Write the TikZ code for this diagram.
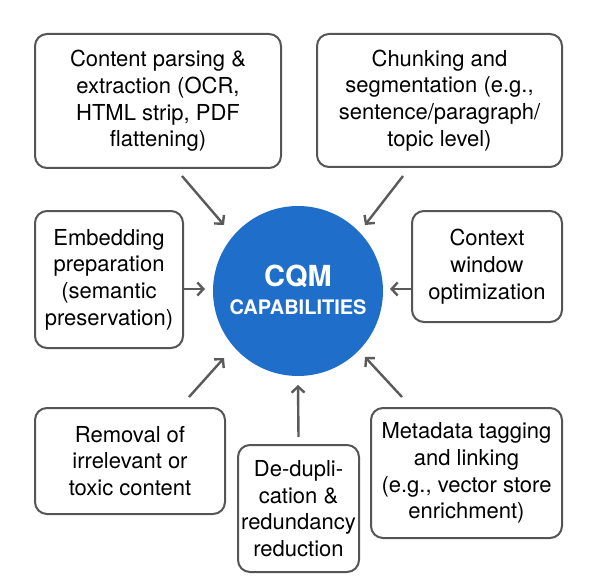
\documentclass[tikz,border=0pt]{standalone}
\usepackage{fontspec}
\setmainfont{TeX Gyre Heros}
\usetikzlibrary{arrows.meta,calc}
\definecolor{cqmblue}{RGB}{31,110,201}
\definecolor{edgegray}{RGB}{85,85,85}
\definecolor{arrgray}{RGB}{90,90,90}
\tikzset{
  box/.style={draw=edgegray, line width=2pt, rounded corners=12pt, align=center,
    inner sep=2pt, font=\fontsize{22}{26.7}\selectfont, text=black},
  arr/.style={draw=arrgray, line width=2.4pt, -{Straight Barb[length=6pt,width=13pt,line width=2.4pt]}},
}
\begin{document}
\begin{tikzpicture}[x=1pt,y=-1pt]
\useasboundingbox (0,0) rectangle (590,586);
\node[circle, fill=cqmblue, minimum size=170pt, inner sep=0pt] (cqm) at (298,291) {};
\node[text=white, font=\fontsize{29}{30}\selectfont\bfseries] (t1) at (298,276) {CQM};
\node[text=white, font=\fontsize{20}{22}\selectfont\bfseries] (t2) at (298,307) {CAPABILITIES};

\node[box, minimum width=246pt, minimum height=134pt] (b1) at (158,101)
  {Content parsing \&\\extraction (OCR,\\HTML strip, PDF\\flattening)};
\node[box, minimum width=245pt, minimum height=133pt] (b2) at (439.5,100.5)
  {Chunking and\\segmentation (e.g.,\\sentence/paragraph/\\topic level)};
\node[box, minimum width=148pt, minimum height=137pt] (b3) at (109,279.5)
  {Embedding\\preparation\\(semantic\\preservation)};
\node[box, minimum width=150pt, minimum height=111pt] (b4) at (487,266.5)
  {Context\\window\\optimization};
\node[box, minimum width=190pt, minimum height=106pt] (b5) at (130,461)
  {Removal of\\irrelevant or\\toxic content};
\node[box, minimum width=121pt, minimum height=127pt] (b6) at (298.5,508.5)
  {De-dupli-\\cation \&\\redundancy\\reduction};
\node[box, minimum width=191pt, minimum height=130pt] (b7) at (466.5,473)
  {Metadata tagging\\and linking\\(e.g., vector store\\enrichment)};

\draw[arr] ($(b1.south)+(24,7)$) -- ($(cqm.center)+(-74,-66)$);
\draw[arr] ($(b2.south)+(-36.5,8)$) -- ($(cqm.center)+(67,-66)$);
\draw[arr] ($(b3.east)+(0,9.5)$) -- ($(cqm.center)+(-93,-2)$);
\draw[arr] ($(b4.west)+(0,22.5)$) -- ($(cqm.center)+(92,-2)$);
\draw[arr] ($(b5.north)+(59,-10)$) -- ($(cqm.center)+(-74,67)$);
\draw[arr] ($(b6.north)+(0,-7)$) -- ($(cqm.center)+(0,94)$);
\draw[arr] ($(b7.north)+(-64.5,-10)$) -- ($(cqm.center)+(67,66)$);
\end{tikzpicture}
\end{document}
